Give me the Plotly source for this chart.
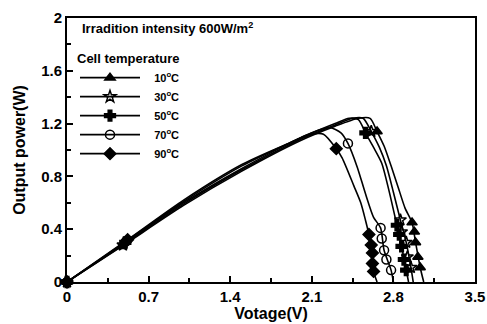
import plotly.graph_objects as go

# ---- data ----
labels = ["10<sup>o</sup>C", "30<sup>o</sup>C", "50<sup>o</sup>C", "70<sup>o</sup>C", "90<sup>o</sup>C"]
symbols = ["triangle-up", "star-open", "cross", "circle-open", "diamond"]

v_10 = [0, 0.47, 1.0, 1.5, 2.0, 2.3, 2.5, 2.6, 2.66, 2.72, 2.78, 2.84, 2.9, 2.96, 2.99, 3.03, 3.06]
p_10 = [0, 0.27, 0.58, 0.84, 1.07, 1.18, 1.24, 1.24, 1.14, 1.03, 0.88, 0.72, 0.56, 0.45, 0.30, 0.11, 0]
v_30 = [0, 0.48, 1.0, 1.5, 2.0, 2.3, 2.45, 2.54, 2.61, 2.68, 2.74, 2.8, 2.86, 2.91, 2.95, 2.97]
p_30 = [0, 0.28, 0.59, 0.85, 1.08, 1.19, 1.24, 1.24, 1.14, 1.02, 0.88, 0.68, 0.47, 0.30, 0.11, 0]
v_50 = [0, 0.5, 1.0, 1.5, 2.0, 2.3, 2.42, 2.5, 2.56, 2.63, 2.7, 2.76, 2.83, 2.87, 2.91, 2.93]
p_50 = [0, 0.30, 0.60, 0.86, 1.09, 1.2, 1.24, 1.23, 1.13, 1.02, 0.90, 0.70, 0.43, 0.27, 0.09, 0]
v_70 = [0, 0.51, 1.0, 1.5, 1.9, 2.1, 2.25, 2.35, 2.41, 2.49, 2.56, 2.63, 2.69, 2.72, 2.78, 2.80]
p_70 = [0, 0.31, 0.61, 0.88, 1.05, 1.13, 1.17, 1.13, 1.05, 0.87, 0.67, 0.49, 0.41, 0.24, 0.09, 0]
v_90 = [0, 0.52, 1.0, 1.5, 1.9, 2.1, 2.2, 2.31, 2.36, 2.46, 2.52, 2.56, 2.59, 2.62, 2.63, 2.66]
p_90 = [0, 0.32, 0.62, 0.89, 1.05, 1.12, 1.12, 1.01, 0.94, 0.73, 0.60, 0.47, 0.36, 0.22, 0.08, 0]

# marker points
mv_10 = [0, 0.47, 2.66, 2.96, 2.98, 2.99, 3.01, 3.03]
mp_10 = [0, 0.27, 1.14, 0.45, 0.38, 0.30, 0.19, 0.11]
mv_30 = [0, 0.48, 2.61, 2.86, 2.87, 2.91, 2.92, 2.95]
mp_30 = [0, 0.28, 1.14, 0.47, 0.38, 0.30, 0.19, 0.11]
mv_50 = [0, 0.50, 2.56, 2.83, 2.85, 2.87, 2.89, 2.91]
mp_50 = [0, 0.30, 1.13, 0.43, 0.36, 0.27, 0.17, 0.09]
mv_70 = [0, 0.51, 2.41, 2.69, 2.70, 2.72, 2.74, 2.78]
mp_70 = [0, 0.31, 1.05, 0.41, 0.33, 0.24, 0.17, 0.09]
mv_90 = [0, 0.52, 2.31, 2.59, 2.61, 2.62, 2.62, 2.63]
mp_90 = [0, 0.32, 1.01, 0.36, 0.28, 0.22, 0.14, 0.08]

x_ticks = [0, 0.7, 1.4, 2.1, 2.8, 3.5]
x_ticklabels = ["0", "0.7", "1.4", "2.1", "2.8", "3.5"]
y_ticks = [0, 0.4, 0.8, 1.2, 1.6, 2]
y_ticklabels = ["0", "0.4", "0.8", "1.2", "1.6", "2"]

curves = [(v_10, p_10), (v_30, p_30), (v_50, p_50), (v_70, p_70), (v_90, p_90)]
marks = [(mv_10, mp_10), (mv_30, mp_30), (mv_50, mp_50), (mv_70, mp_70), (mv_90, mp_90)]

FONT = "Liberation Sans, Arial, sans-serif"
fig = go.Figure()
for i in range(5):
    cv, cp = curves[i]
    mv, mp = marks[i]
    fig.add_trace(go.Scatter(x=cv, y=cp, mode="lines", line=dict(color="black", width=1.6, shape="spline", smoothing=0.7),
                             showlegend=False, hoverinfo="skip", cliponaxis=False))
    fig.add_trace(go.Scatter(x=mv, y=mp, mode="markers",
                             marker=dict(symbol=symbols[i], size=9, color="black",
                                         line=dict(color="black", width=1.5)),
                             showlegend=False, cliponaxis=False))
    fig.add_trace(go.Scatter(x=[None], y=[None], mode="lines+markers",
                             name="&nbsp;&nbsp;&nbsp;<b>" + labels[i] + "</b>",
                             line=dict(color="black", width=1.6),
                             marker=dict(symbol=symbols[i], size=9, color="black",
                                         line=dict(color="black", width=1.5))))

fig.add_annotation(text="<b>Irradition intensity 600W/m<sup>2</sup></b>", xref="paper", yref="paper",
                   x=0.032, y=1.0, xanchor="left", yanchor="top", showarrow=False,
                   font=dict(family=FONT, size=13, color="black"))

axis_common = dict(showline=True, linecolor="black", linewidth=2, mirror=True, ticks="inside",
                   ticklen=6, tickwidth=1.5, tickcolor="black", showgrid=False, zeroline=False,
                   automargin=False,
                   tickfont=dict(family=FONT, size=15, color="black"))

fig.update_xaxes(range=[0, 3.5], tickvals=x_ticks, ticktext=["<b>%s</b>" % t for t in x_ticklabels],
                 minor=dict(ticks="inside", dtick=0.35, ticklen=4, tickwidth=1.5, tickcolor="black"),
                 title=dict(text="<b>Votage(V)</b>", font=dict(family=FONT, size=16, color="black"), standoff=0),
                 **axis_common)
fig.update_yaxes(range=[0, 2], tickvals=y_ticks, ticktext=["<b>%s</b>" % t for t in y_ticklabels],
                 minor=dict(ticks="inside", dtick=0.2, ticklen=4, tickwidth=1.5, tickcolor="black"),
                 title=dict(text="<b>Output power(W)</b>", font=dict(family=FONT, size=16, color="black"), standoff=12),
                 **axis_common)

fig.update_layout(
    width=487, height=324, margin=dict(l=67, r=12, t=18, b=42),
    plot_bgcolor="white", paper_bgcolor="white",
    legend=dict(x=0.0196, y=0.893, xanchor="left", yanchor="top", bgcolor="rgba(0,0,0,0)",
                title=dict(text="<b>Cell temperature</b>", font=dict(family=FONT, size=13, color="black")),
                font=dict(family=FONT, size=11, color="black"), itemwidth=60,
                tracegroupgap=0),
)
fig.write_html("out.html")
